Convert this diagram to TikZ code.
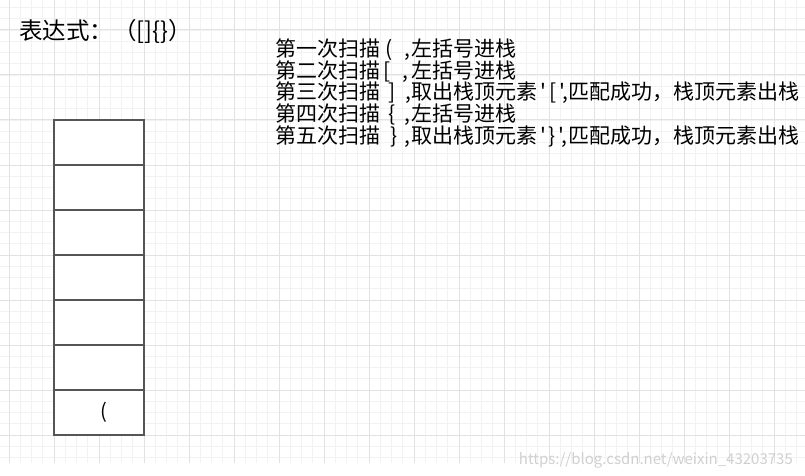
\documentclass[tikz,border=0pt]{standalone}
\usepackage{fontspec}
\newfontfamily\cjk{Noto Sans CJK SC}
\usetikzlibrary{positioning}
\definecolor{gridminor}{HTML}{F2F2F2}
\definecolor{gridmajor}{HTML}{E2E2E2}
\definecolor{boxline}{HTML}{555555}
\definecolor{watermark}{HTML}{D0D0D0}

\begin{document}
\begin{tikzpicture}[x=1pt, y=-1pt, node distance=45pt,
    cell/.style={draw=boxline, line width=1.3pt, rectangle, minimum width=90pt, minimum height=45pt, inner sep=0pt},
    scanline/.style={anchor=base west, inner sep=0pt, font=\cjk\fontsize{21}{23}\selectfont}]
    \useasboundingbox (0,0) rectangle (805,476);

    % Background grid
    \begin{scope}[shift={(9,30)}]
        \draw[gridminor, line width=0.9pt, step=11.25pt] (-9,-30) grid (796,433);
        \draw[gridmajor, line width=1pt, step=45pt] (-9,-30) grid (796,433);
    \end{scope}

    % Expression
    \node (expr) [anchor=base west, inner sep=0pt, font=\cjk\fontsize{23.5}{26}\selectfont] at (19,40) {表达式：（[]\{\}）};

    % Stack cells
    \node (c1) [cell, fill=white] at (99,142.5) {};
    \node (c2) [cell, fill=white, below of=c1] {};
    \node (c3) [cell, fill=white, below of=c2] {};
    \node (c4) [cell, fill=white, below of=c3] {};
    \node (c5) [cell, fill=white, below of=c4] {};
    \node (c6) [cell, fill=white, below of=c5] {};
    \node (c7) [cell, fill=white, below of=c6] {};
    \node (paren) [font=\cjk\fontsize{20}{22}\selectfont] at ([xshift=5pt]c7.center) {(};

    % Scan steps
    \node (l1) [scanline] at (275,57) {第一次扫描\hspace*{5pt}(\hspace*{12pt},\hspace*{1pt}左括号进栈};
    \node (l2) [scanline] at (275,78.5) {第二次扫描\hspace*{3pt}[\hspace*{12.5pt},\hspace*{2.5pt}左括号进栈};
    \node (l3) [scanline] at (275,100) {第三次扫描\hspace*{8pt}]\hspace*{10pt},\hspace*{0.5pt}取出栈顶元素\hspace*{3pt}'\hspace*{3pt}[\hspace*{3pt}',\hspace*{0pt}匹配成功，栈顶元素出栈};
    \node (l4) [scanline] at (275,121.5) {第四次扫描\hspace*{8pt}\{\hspace*{9pt},\hspace*{1.5pt}左括号进栈};
    \node (l5) [scanline] at (275,143) {第五次扫描\hspace*{10pt}\}\hspace*{7.5pt},\hspace*{1pt}取出栈顶元素\hspace*{3pt}'\hspace*{2pt}\}\hspace*{3pt}',\hspace*{1pt}匹配成功，栈顶元素出栈};

    % Watermark
    \node (mark) [anchor=base east, inner sep=0pt, text=watermark, font=\cjk\fontsize{15}{17}\selectfont] at (793,464) {https://blog.csdn.net/weixin\_43203735};
\end{tikzpicture}
\end{document}
